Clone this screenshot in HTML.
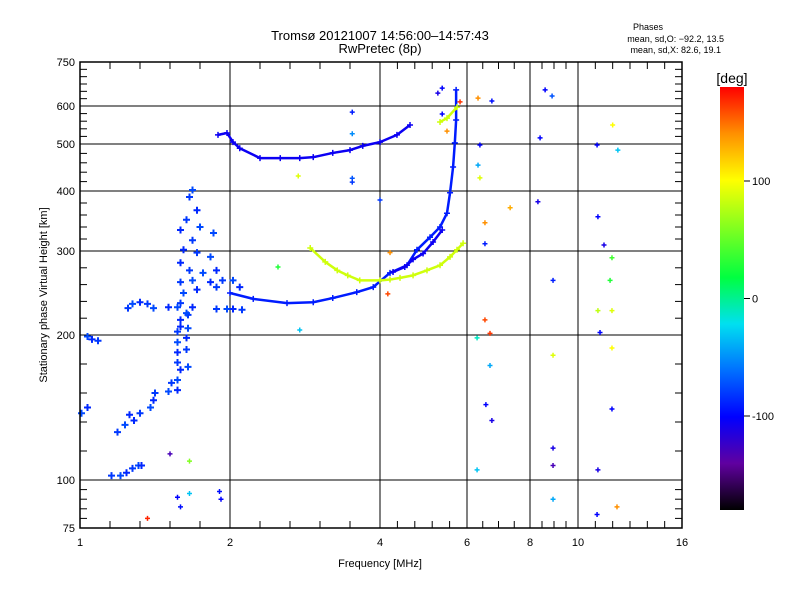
<!DOCTYPE html>
<html><head><meta charset="utf-8">
<style>
body{margin:0;background:#fff;}
svg{display:block;font-family:"Liberation Sans",sans-serif;}
</style></head>
<body>
<svg id="chart" width="800" height="600" viewBox="0 0 800 600" xmlns="http://www.w3.org/2000/svg">
<rect width="800" height="600" fill="#fff"/>
<text x="380" y="40" font-size="13" text-anchor="middle">Tromsø 20121007 14:56:00–14:57:43</text>
<text x="380" y="53" font-size="13" text-anchor="middle">RwPretec (8p)</text>
<text x="663" y="30" font-size="9" text-anchor="end">Phases</text>
<text x="724" y="42" font-size="9" text-anchor="end">mean, sd,O: −92.2, 13.5</text>
<text x="721" y="53" font-size="9" text-anchor="end">mean, sd,X:  82.6, 19.1</text>
<text x="380" y="567" font-size="11" text-anchor="middle">Frequency [MHz]</text>
<text x="47" y="295" font-size="11" text-anchor="middle" transform="rotate(-90 47 295)">Stationary phase Virtual Height [km]</text>
<g id="grid"></g>
<g id="marks"></g>
<g id="axes"></g>
<defs><linearGradient id="cbg" x1="0" y1="1" x2="0" y2="0">
<stop offset="0" stop-color="#000000"/><stop offset="0.11" stop-color="#6000a0"/>
<stop offset="0.22" stop-color="#0000ff"/><stop offset="0.33" stop-color="#0070ff"/>
<stop offset="0.44" stop-color="#00e0f0"/><stop offset="0.55" stop-color="#00ff40"/>
<stop offset="0.78" stop-color="#ffff00"/><stop offset="0.89" stop-color="#ff9000"/>
<stop offset="1" stop-color="#ff0000"/></linearGradient></defs>
<rect x="720" y="87" width="24" height="423" fill="url(#cbg)"/>
<text x="732" y="83" font-size="14" text-anchor="middle">[deg]</text>
<g id="cbticks"></g>
</svg>
<script>
// axis knots (tick label values)
const xTickVals=[1,2,4,6,8,10,16];
const yTickVals=[75,100,200,300,400,500,600,750];
const cbTickVals=[100,0,-100];
// O-mode main trace
const oFreq=[2.0,2.31,2.76,3.11,3.37,3.69,3.91,4.23,4.62,4.85,5.15,5.38,5.54,5.61,5.68,5.72,5.75,5.75];
const oHeight=[250,243,238,239,244,251,257,274,283,302,323,340,363,397,451,503,563,655];
// O-mode second branch
const o2Freq=[4.30,4.57,4.76,4.99,5.22,5.43];
const o2Height=[275,281,290,297,315,335];
// X-mode trace
const xFreq=[3.07,3.27,3.43,3.57,3.73,4.0,4.23,4.46,4.76,5.08,5.38,5.61,5.77,5.91];
const xHeight=[305,287,277,271,265,265,266,268,271,277,283,293,302,313];
const xHighFreq=[5.38,5.54,5.77];
const xHighHeight=[558,568,597];
// multi-hop trace
const hFreq=[1.92,1.98,2.04,2.13,2.4,2.67,2.93,3.11,3.37,3.6,3.77,4.0,4.39,4.69];
const hHeight=[524,529,505,491,470,470,470,472,481,487,496,505,524,550];
// E/F cluster points
const cFreq=[1.33,1.40,1.47,1.49,1.50,1.59,1.65,1.61,1.65,1.67,1.65,1.72,1.65,1.71,1.65,1.71,1.65,1.72,1.67,1.72,1.65,1.75,1.73,1.75,1.78,1.71,1.80,1.67,1.75,1.89,1.69,1.78,1.87,1.67,1.73,1.82,1.91,1.67,1.75,1.87,1.95,1.69,1.78,1.91,2.04,2.13,1.67,1.71,1.67,1.21,1.27,1.31,1.35,1.39,1.41,1.32,1.35,1.40,1.45,1.49,1.59,1.91,1.98,2.04,2.16,1.05,1.08,1.12,1.01,1.05,1.25,1.30,1.36];
const cHeight=[145,146,150,155,160,161,162,167,169,176,181,178,188,190,195,198,204,208,218,224,233,233,390,402,368,352,340,335,318,330,302,298,293,286,277,274,277,263,265,263,265,250,254,257,265,257,238,226,210,103,103,105,108,110,110,232,237,239,237,232,233,231,231,231,230,199,197,196,146,150,133,138,141];
// scattered echoes: freq, height, phase
const sFreq=[1.45,1.65,1.67,1.73,1.93,1.94,1.60,1.73,6.35,6.79,8.63,8.92,12.0,12.3,11.1,6.41,8.42,6.35,6.41,6.57,6.57,7.37,8.33,11.15,11.5,11.96,11.85,11.15,11.96,6.57,6.73,6.32,11.27,8.96,6.73,8.96,11.96,6.6,6.79,11.96,8.96,8.96,6.32,11.15,8.96,11.1,12.25,5.54,5.84,5.43,3.63,3.63,3.63,3.63,4.0,2.91,2.64,2.93,4.23,4.18,5.33,5.43];
const sHeight=[80,91,86,93,94,90,118,113,627,617,655,634,550,487,498,498,516,455,428,347,312,372,382,357,310,292,265,229,229,218,202,198,203,265,179,186,191,152,141,149,122,110,107,107,90,82,86,534,614,579,584,527,427,419,385,432,281,206,298,249,644,661];
const sPhase=[170,-100,-95,-30,-95,-100,-130,60,140,-95,-100,-70,100,-30,-100,-100,-100,-40,90,140,-90,130,-110,-100,-110,40,30,80,90,160,165,-10,-100,-90,-40,90,100,-100,-110,-100,-110,-130,-30,-110,-40,-100,140,140,165,-100,-90,-50,-70,-80,-80,90,30,-30,140,160,-110,-100];
const oPhase=-90, o2Phase=-105, xPhase=85, hPhase=-105, cPhase=-86;

const xPix=[80,230,380,467,530,578,682];
const yPix=[528,480,335,251,191,144,106,62];
const L=80,R=682,T=62,B=528;
function interp(v,vals,pix){for(let i=0;i<vals.length-1;i++){if(v<=vals[i+1]||i==vals.length-2){return pix[i]+(v-vals[i])/(vals[i+1]-vals[i])*(pix[i+1]-pix[i]);}}}
function X(f){return interp(f,xTickVals,xPix);}
function Y(h){return interp(h,yTickVals,yPix);}
const cStops=[[-180,[0,0,0]],[-140,[96,0,160]],[-100,[0,0,255]],[-60,[0,112,255]],[-20,[0,224,240]],[20,[0,255,64]],[100,[255,255,0]],[140,[255,144,0]],[180,[255,0,0]]];
function col(p){for(let i=0;i<cStops.length-1;i++){const a=cStops[i],b=cStops[i+1];if(p<=b[0]){const t=Math.max(0,(p-a[0])/(b[0]-a[0]));const c=a[1].map((v,k)=>Math.round(v+t*(b[1][k]-v)));return `rgb(${c})`;}}return 'rgb(255,0,0)';}
const NS='http://www.w3.org/2000/svg';
function mk(tag,attrs,parent){const e=document.createElementNS(NS,tag);for(const k in attrs)e.setAttribute(k,attrs[k]);parent.appendChild(e);return e;}
const grid=document.getElementById('grid'),marks=document.getElementById('marks'),axes=document.getElementById('axes');
[2,4,6,8,10].forEach(f=>{const l=mk('line',{x1:X(f),x2:X(f),y1:T,y2:B,stroke:'#000','stroke-width':1},grid);

});
[100,200,300,400,500,600].forEach(h=>{const l=mk('line',{x1:L,x2:R,y1:Y(h),y2:Y(h),stroke:'#000','stroke-width':1},grid);

});
const fr=mk('rect',{x:L,y:T,width:R-L,height:B-T,fill:'none',stroke:'#000','stroke-width':1.5},axes);


const xMinor=[1.2,1.4,1.6,1.8,2.4,2.8,3.2,3.6,4.4,4.8,5.2,5.6,6.5,7,7.5,8.5,9,9.5,11,12,13,14,15];
xMinor.forEach(f=>{mk('line',{x1:X(f),x2:X(f),y1:T,y2:T+7,stroke:'#000'},axes);mk('line',{x1:X(f),x2:X(f),y1:B,y2:B-7,stroke:'#000'},axes);});
const yMinor=[80,85,90,95,120,140,160,180,220,240,260,280,320,340,360,380,420,440,460,480,520,540,560,580,625,650,675,700,725];
yMinor.forEach(h=>{mk('line',{x1:L,x2:L+7,y1:Y(h),y2:Y(h),stroke:'#000'},axes);mk('line',{x1:R,x2:R-7,y1:Y(h),y2:Y(h),stroke:'#000'},axes);});
xTickVals.forEach(f=>{const t=mk('text',{x:X(f),y:B+18,'font-size':11,'text-anchor':'middle'},axes);t.textContent=f;

});
yTickVals.forEach(h=>{const t=mk('text',{x:L-5,y:Y(h)+4,'font-size':11,'text-anchor':'end'},axes);t.textContent=h;

});
function plus(f,h,p,s,w){const x=X(f),y=Y(h);if(x<L||x>R||y<T||y>B)return;
const g=mk('path',{d:`M${x-s} ${y}H${x+s}M${x} ${y-s}V${y+s}`,stroke:col(p),'stroke-width':w},marks);

}
function trace(fs,hs,p,name){const pts=fs.map((f,i)=>X(f)+','+Y(hs[i])).join(' ');
const pl=mk('polyline',{points:pts,fill:'none',stroke:col(p),'stroke-width':2.5,'stroke-linejoin':'round'},marks);


fs.forEach((f,i)=>plus(f,hs[i],p,3,1.5));}
cFreq.forEach((f,i)=>plus(f,cHeight[i],cPhase+(i%3)*6,3.5,2));
trace(hFreq,hHeight,hPhase,'multihop-trace');
trace(oFreq,oHeight,oPhase,'o-mode-trace');
trace(o2Freq,o2Height,o2Phase,'o-mode-branch');
trace(xFreq,xHeight,xPhase,'x-mode-trace');
trace(xHighFreq,xHighHeight,xPhase,'x-mode-high-trace');
sFreq.forEach((f,i)=>plus(f,sHeight[i],sPhase[i],2.5,1.5));
const cb=document.getElementById('cbticks');
function CY(p){return 87+(180-p)/360*423;}
cbTickVals.forEach(v=>{mk('line',{x1:744,x2:750,y1:CY(v),y2:CY(v),stroke:'#000'},cb);
const t=mk('text',{x:752,y:CY(v)+4,'font-size':11},cb);t.textContent=v;

});
</script>
</body></html>
